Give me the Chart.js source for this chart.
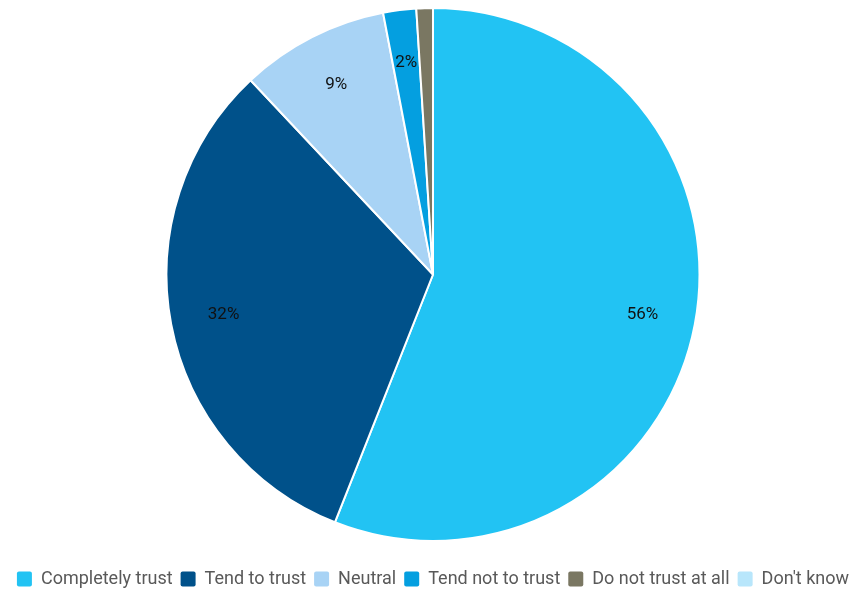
<!DOCTYPE html>
<html>
<head>
<meta charset="utf-8">
<script src="https://cdn.jsdelivr.net/npm/chart.js@4"></script>
<style>
  html, body { margin: 0; padding: 0; background: #fff; overflow: hidden; }
  canvas { display: block; }
</style>
</head>
<body>
<canvas id="trustChart" width="858" height="589"></canvas>
<script>
// answers, in percent
const labels = ["Completely trust", "Tend to trust", "Neutral", "Tend not to trust", "Do not trust at all", "Don't know"];
const values = [56, 32, 9, 2, 1, 0];
const colors = ["#22c3f3", "#00518a", "#a8d3f5", "#049fe0", "#7a7762", "#b8e6fb"];

// print the percentage inside each slice that is big enough
const sliceLabels = {
  id: "sliceLabels",
  afterDatasetsDraw(chart) {
    const ctx = chart.ctx;
    const meta = chart.getDatasetMeta(0);
    ctx.save();
    ctx.font = "17px Roboto";
    ctx.fillStyle = "#111";
    ctx.textAlign = "center";
    ctx.textBaseline = "middle";
    meta.data.forEach((arc, i) => {
      if (values[i] < 2) return;
      const mid = (arc.startAngle + arc.endAngle) / 2;
      const r = arc.outerRadius * 0.8;
      ctx.fillText(values[i] + "%", arc.x + Math.cos(mid) * r, arc.y + Math.sin(mid) * r);
    });
    ctx.restore();
  }
};

// push the legend row down towards the bottom edge
const legendDrop = {
  id: "legendDrop",
  afterLayout(chart) {
    if (!chart.legend) return;
    chart.legend.top += 20;
    chart.legend.bottom += 20;
  }
};

const defaultLabels = Chart.controllers.pie.overrides.plugins.legend.labels.generateLabels;

new Chart(document.getElementById("trustChart"), {
  type: "pie",
  data: {
    labels,
    datasets: [{
      data: values,
      backgroundColor: colors,
      borderColor: "#fff",
      borderWidth: 2
    }]
  },
  options: {
    responsive: false,
    animation: false,
    layout: { padding: { top: 7, left: 8, bottom: 11 } },
    plugins: {
      tooltip: { enabled: false },
      legend: {
        position: "bottom",
        labels: {
          color: "#595959",
          font: { family: "Roboto", size: 18 },
          boxWidth: 15,
          boxHeight: 15,
          useBorderRadius: true,
          borderRadius: 2,
          padding: 8,
          // solid swatches, without the white slice border
          generateLabels(chart) {
            return defaultLabels(chart).map(item => ({ ...item, lineWidth: 0 }));
          }
        }
      }
    }
  },
  plugins: [sliceLabels, legendDrop]
});
</script>
</body>
</html>
